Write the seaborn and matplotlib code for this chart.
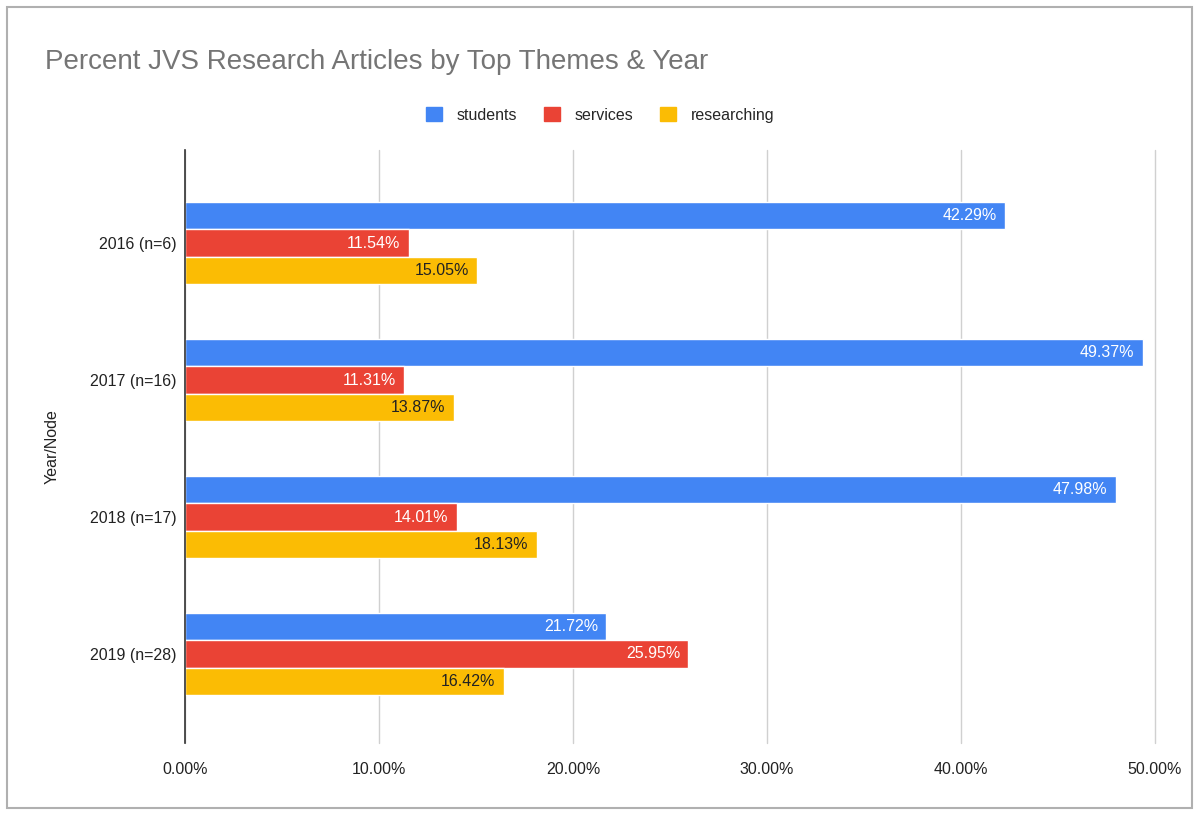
import seaborn as sns
import matplotlib.pyplot as plt
import pandas as pd
from matplotlib.patches import Rectangle
from matplotlib.ticker import FuncFormatter

# chart values (percent)
years = ["2016 (n=6)", "2017 (n=16)", "2018 (n=17)", "2019 (n=28)"]
themes = ["students", "services", "researching"]
students = [42.29, 49.37, 47.98, 21.72]
services = [11.54, 11.31, 14.01, 25.95]
researching = [15.05, 13.87, 18.13, 16.42]
colors = ["#4285F4", "#EA4335", "#FBBC04"]
label_colors = ["white", "white", "#222222"]

rows = []
for theme, vals in zip(themes, [students, services, researching]):
    for y, v in zip(years, vals):
        rows.append({"Year/Node": y, "theme": theme, "pct": v})
df = pd.DataFrame(rows)

sns.set_style("white")
plt.rcParams["font.family"] = ["Liberation Sans", "DejaVu Sans"]

fig = plt.figure(figsize=(12, 8.23), dpi=100)
fig.patches.append(Rectangle((7 / 1200, 1 - 808 / 823), 1185 / 1200, 801 / 823,
                             transform=fig.transFigure, fill=False,
                             edgecolor="#b0b0b0", linewidth=1.5))

ax = fig.add_axes([185 / 1200, 1 - 743 / 823, 970 / 1200, 593 / 823])
sns.barplot(data=df, x="pct", y="Year/Node", hue="theme", order=years,
            hue_order=themes, palette=colors, orient="h", width=0.6,
            saturation=1, ax=ax, legend=False)

# value labels inside the bar ends
for cont, lc in zip(ax.containers, label_colors):
    texts = ax.bar_label(cont, labels=[f"{b.get_width():.2f}%" for b in cont],
                         padding=-6, color=lc, fontsize=11.5)
    for t in texts:
        t.set_horizontalalignment("right")

ax.set_xlim(0, 50)
ax.set_ylim(3.65, -0.68)
ax.set_xticks([0, 10, 20, 30, 40, 50])
ax.xaxis.set_major_formatter(FuncFormatter(lambda v, p: f"{v:.2f}%"))
ax.grid(axis="x", color="#d0d0d0", linewidth=1)
for gl in ax.get_xgridlines():
    gl.set_clip_on(False)
ax.set_axisbelow(True)
for s in ["top", "right", "bottom"]:
    ax.spines[s].set_visible(False)
ax.spines["left"].set_color("#333333")
ax.spines["left"].set_linewidth(1.2)
ax.tick_params(axis="both", length=0, labelsize=11.5, colors="#222222", pad=6)
ax.tick_params(axis="x", pad=14)
ax.set_xlabel("")
ax.set_ylabel("Year/Node", fontsize=11.5, color="#222222", labelpad=22)

fig.text(45 / 1200, 1 - 62 / 823, "Percent JVS Research Articles by Top Themes & Year",
         fontsize=20, color="#757575", va="center", ha="left")

# legend
handles = [Rectangle((0, 0), 1, 1, color=c) for c in colors]
fig.legend(handles, themes, loc="center", bbox_to_anchor=(600 / 1200, 1 - 115 / 823),
           ncol=3, frameon=False, fontsize=11.5, handlelength=1, handleheight=1,
           columnspacing=1.7, handletextpad=0.9)

fig.savefig("out.png", dpi=100)
